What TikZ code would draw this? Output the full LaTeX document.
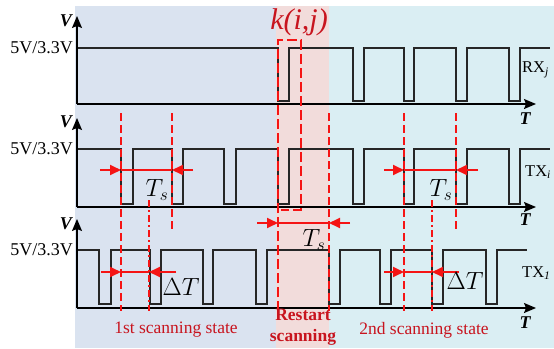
\documentclass[tikz,border=0pt]{standalone}
\usepackage{fontspec}
\setmainfont{Liberation Serif}
\usetikzlibrary{arrows.meta}
\definecolor{bgL}{HTML}{DAE3F0}
\definecolor{bgP}{HTML}{F2DCDB}
\definecolor{bgR}{HTML}{DAEEF3}
\definecolor{lred}{HTML}{F51414}
\definecolor{tred}{HTML}{C8141E}
\tikzset{
  sig/.style={line width=1.2pt,black!85},
  axis/.style={line width=1.3pt,black,-{Stealth[length=12pt,width=10pt,inset=2pt]}},
  vdash/.style={lred,line width=1.4pt,dash pattern=on 8pt off 4pt},
  vdashdot/.style={lred,line width=1.4pt,dash pattern=on 7pt off 3pt on 2pt off 3pt},
  vthick/.style={lred,line width=2.4pt,dash pattern=on 10pt off 4pt},
  dimline/.style={lred,line width=1.8pt},
  dimarrow/.style={lred,line width=1.8pt,-{Triangle[length=11pt,width=10pt]}},
  lvl/.style={anchor=east,font=\fontsize{18}{18}\selectfont,inner sep=0pt},
  vlab/.style={font=\fontsize{18}{18}\selectfont\bfseries\itshape,inner sep=0pt},
  chan/.style={anchor=west,font=\fontsize{16.5}{16.5}\selectfont,inner sep=0pt},
  mlab/.style={font=\fontsize{23}{23}\selectfont,inner sep=0pt},
  stlab/.style={tred,font=\fontsize{17.5}{17.5}\selectfont,inner sep=0pt},
}
\begin{document}
\begin{tikzpicture}[x=1pt,y=-1pt]
\useasboundingbox (0,0) rectangle (554,348);
% backgrounds
\fill[bgL] (75,6) rectangle (276,348);
\fill[bgP] (276,6) rectangle (329,348);
\fill[bgR] (329,6) rectangle (554,348);

% ---- panel 1 (RX_j)
\draw[sig] (77,48)--(278,48)--(278,101)--(289,101)--(289,48)--(353,48)--(353,101)--(364,101)--(364,48)--(404,48)--(404,101)--(414,101)--(414,48)--(456,48)--(456,101)--(467,101)--(467,48)--(509,48)--(509,101)--(520,101)--(520,48)--(550,48);
\coordinate (o1) at (77,104);
\coordinate (y1) at (77,16);
\coordinate (x1) at (536,104);
\draw[axis] (o1) -- (y1);
\draw[axis] (o1) -- (x1);
\node[lvl] (l1) at (73,48) {5V/3.3V};
\node[vlab] (v1) at (66,21) {V};
\node[vlab] (t1) at (525,119) {T};
\node[chan] (c1) at (522,70) {RX\textsubscript{\textit{j}}};

% ---- panel 2 (TX_i)
\draw[sig] (77,149)--(121,149)--(121,204)--(133,204)--(133,149)--(172,149)--(172,204)--(183,204)--(183,149)--(224,149)--(224,204)--(236,204)--(236,149)--(278,149)--(278,204)--(289,204)--(289,149)--(353,149)--(353,204)--(364,204)--(364,149)--(404,149)--(404,204)--(414,204)--(414,149)--(456,149)--(456,204)--(467,204)--(467,149)--(509,149)--(509,204)--(520,204)--(520,149)--(550,149);
\coordinate (o2) at (77,207);
\coordinate (y2) at (77,118);
\coordinate (x2) at (536,207);
\draw[axis] (o2) -- (y2);
\draw[axis] (o2) -- (x2);
\node[lvl] (l2) at (73,149) {5V/3.3V};
\node[vlab] (v2) at (66,122) {V};
\node[vlab] (t2) at (525,220) {T};
\node[chan] (c2) at (525,172) {TX\textsubscript{\textit{i}}};

% ---- panel 3 (TX_1)
\draw[sig] (77,250)--(99,250)--(99,304)--(111,304)--(111,250)--(150,250)--(150,304)--(161,304)--(161,250)--(203,250)--(203,304)--(213,304)--(213,250)--(256,250)--(256,304)--(267,304)--(267,250)--(329,250)--(329,304)--(340,304)--(340,250)--(380,250)--(380,304)--(391,304)--(391,250)--(432,250)--(432,304)--(443,304)--(443,250)--(486,250)--(486,304)--(497,304)--(497,250)--(527,250);
\coordinate (o3) at (77,308);
\coordinate (y3) at (77,219);
\coordinate (x3) at (536,308);
\draw[axis] (o3) -- (y3);
\draw[axis] (o3) -- (x3);
\node[lvl] (l3) at (73,250) {5V/3.3V};
\node[vlab] (v3) at (66,224) {V};
\node[vlab] (t3) at (525,323) {T};
\node[chan] (c3) at (522,273) {TX\textsubscript{\textit{1}}};

% ---- red dashed guides
\draw[vdash] (121,113) -- (121,311);
\draw[vdash] (172,113) -- (172,230);
\draw[vdashdot] (149,200) -- (149,311);
\draw[vdash] (404,113) -- (404,311);
\draw[vdash] (456,113) -- (456,230);
\draw[vdashdot] (432,200) -- (432,311);
\draw[vdash] (329,113) -- (329,311);
\draw[vthick] (278,311) -- (278,40) -- (301,40) -- (301,210) -- (281,210);

% ---- dimension arrows
\coordinate (a1) at (100,170); \coordinate (a2) at (121,170);
\coordinate (a3) at (172,170); \coordinate (a4) at (193,170);
\draw[dimline] (a2) -- (a3);
\draw[dimarrow] (a1) -- (a2);
\draw[dimarrow] (a4) -- (a3);
\node[mlab] (ts1) at (157,190) {$T_s$};

\coordinate (b1) at (384,170); \coordinate (b2) at (404,170);
\coordinate (b3) at (456,170); \coordinate (b4) at (478,170);
\draw[dimline] (b2) -- (b3);
\draw[dimarrow] (b1) -- (b2);
\draw[dimarrow] (b4) -- (b3);
\node[mlab] (ts2) at (441,190) {$T_s$};

\coordinate (c1a) at (257,223); \coordinate (c2a) at (278,223);
\coordinate (c3a) at (329,223); \coordinate (c4a) at (350,223);
\draw[dimline] (c2a) -- (c3a);
\draw[dimarrow] (c1a) -- (c2a);
\draw[dimarrow] (c4a) -- (c3a);
\node[mlab] (ts3) at (314,240) {$T_s$};

\coordinate (d1) at (101,272); \coordinate (d2) at (121,272);
\coordinate (d3) at (149,272); \coordinate (d4) at (176,272);
\draw[dimline] (d2) -- (d3);
\draw[dimarrow] (d1) -- (d2);
\draw[dimarrow] (d4) -- (d3);
\node[mlab] (dt1) at (181,287) {$\Delta T$};

\coordinate (e1) at (384,272); \coordinate (e2) at (404,272);
\coordinate (e3) at (432,272); \coordinate (e4) at (459,272);
\draw[dimline] (e2) -- (e3);
\draw[dimarrow] (e1) -- (e2);
\draw[dimarrow] (e4) -- (e3);
\node[mlab] (dt2) at (465,281) {$\Delta T$};

% ---- texts
\node[tred,font=\fontsize{30}{30}\selectfont\itshape,inner sep=0pt] (k) at (299,22) {k(i,j)};
\node[stlab] (s1) at (176,330) {1st scanning state};
\node[stlab] (s2) at (424,330) {2nd scanning state};
\node[tred,font=\fontsize{17.5}{21}\selectfont\bfseries,align=center,inner sep=0pt] (rs) at (303,327) {Restart\\scanning};
\end{tikzpicture}
\end{document}
